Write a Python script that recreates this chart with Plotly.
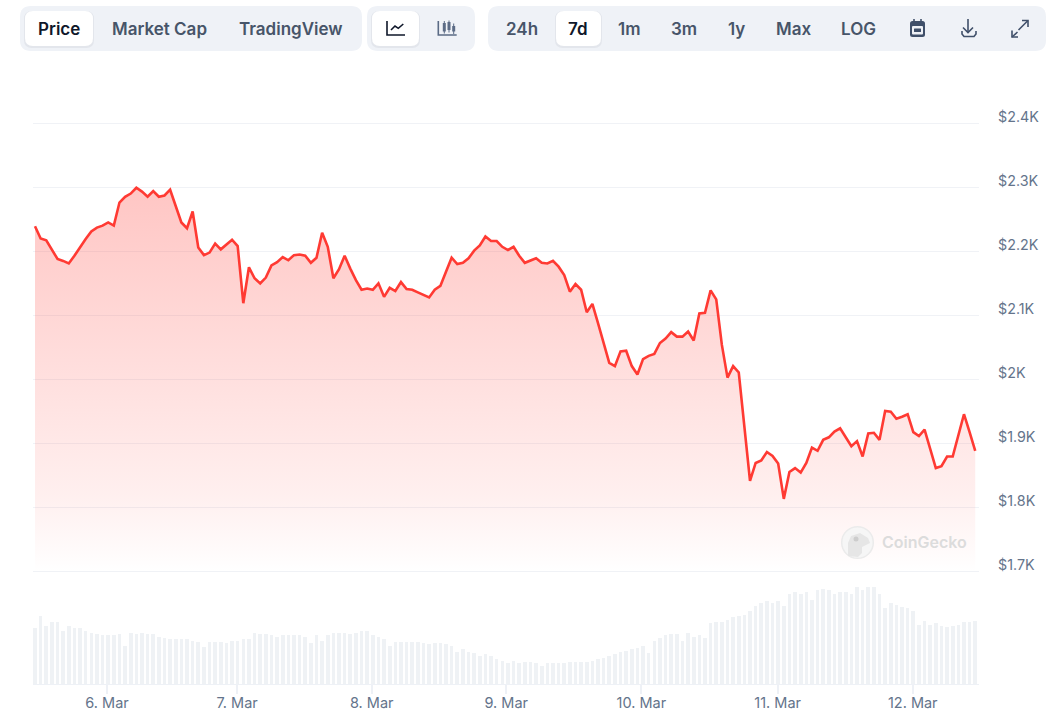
import plotly.graph_objects as go

W, H = 1046, 715

# hourly price
price = [
    2239, 2220, 2217, 2203, 2188, 2185, 2181, 2193, 2207, 2219, 2231, 2237, 2240, 2245, 2240, 2276,
    2285, 2290, 2299, 2293, 2285, 2294, 2285, 2287, 2296, 2270, 2245, 2236, 2262, 2206, 2194, 2198,
    2212, 2203, 2210, 2218, 2208, 2119, 2175, 2158, 2150, 2159, 2178, 2183, 2191, 2186, 2194, 2195,
    2193, 2182, 2190, 2229, 2207, 2158, 2172, 2193, 2173, 2155, 2140, 2142, 2140, 2150, 2129, 2143,
    2138, 2152, 2141, 2140, 2136, 2132, 2128, 2140, 2146, 2168, 2190, 2180, 2182, 2189, 2201, 2209,
    2223, 2216, 2216, 2207, 2202, 2207, 2193, 2182, 2185, 2189, 2182, 2181, 2185, 2176, 2163, 2137,
    2149, 2140, 2105, 2118, 2088, 2057, 2026, 2021, 2044, 2045, 2021, 2008, 2032, 2037, 2040, 2057,
    2064, 2074, 2067, 2067, 2075, 2061, 2103, 2104, 2139, 2125, 2054, 2003, 2021, 2011, 1927, 1842,
    1870, 1874, 1887, 1881, 1869, 1814, 1856, 1862, 1855, 1870, 1894, 1889, 1906, 1910, 1919, 1924,
    1910, 1896, 1904, 1880, 1916, 1917, 1906, 1951, 1950, 1939, 1942, 1946, 1918, 1912, 1922, 1892,
    1862, 1865, 1880, 1880, 1914, 1946, 1918, 1889,
]

# volume bars, relative scale (no axis in the picture)
volume = [
    56, 68, 58, 62, 62, 53, 58, 56, 56, 53, 51, 50, 49, 49, 49, 50, 38, 51, 50, 51, 50, 50, 47, 46,
    45, 45, 45, 45, 43, 42, 37, 42, 42, 42, 41, 43, 43, 45, 45, 51, 50, 50, 49, 47, 49, 49, 49, 49,
    47, 41, 49, 43, 49, 51, 51, 51, 50, 51, 53, 53, 49, 47, 45, 38, 42, 42, 42, 42, 42, 41, 40, 41,
    41, 40, 38, 32, 35, 32, 31, 28, 30, 28, 25, 23, 21, 23, 21, 22, 22, 21, 18, 21, 21, 21, 21, 22,
    22, 22, 22, 23, 25, 26, 28, 30, 32, 33, 35, 36, 38, 31, 43, 46, 49, 50, 50, 43, 51, 47, 49, 46,
    61, 62, 62, 64, 67, 68, 69, 73, 78, 81, 83, 81, 83, 78, 90, 92, 90, 92, 84, 94, 95, 94, 90, 92,
    92, 90, 97, 94, 97, 97, 90, 76, 81, 79, 77, 76, 73, 59, 63, 59, 61, 58, 57, 58, 59, 62, 62, 63,
]

hours = list(range(len(price)))

price_ticks = [1700, 1800, 1900, 2000, 2100, 2200, 2300, 2400]
price_labels = ["$1.7K", "$1.8K", "$1.9K", "$2K", "$2.1K", "$2.2K", "$2.3K", "$2.4K"]

day_ticks = [12.8, 35.9, 59.8, 83.7, 107.7, 131.9, 155.9]
day_labels = ["6. Mar", "7. Mar", "8. Mar", "9. Mar", "10. Mar", "11. Mar", "12. Mar"]

RED = "#ff3a33"
GRID = "#f0f2f6"
BAR = "#eff2f5"
SLATE = "#64748b"
PANEL = "#eff2f7"
DARK = "#0f172a"
BTN_TEXT = "#475569"
ICON = "#40506a"
ICON_SOFT = "#5b6b85"


def px(x):
    return x / W


def py(y):
    return 1 - y / H


def rrect(x0, y0, x1, y1, r):
    return (
        f"M{px(x0 + r)},{py(y0)} L{px(x1 - r)},{py(y0)} Q{px(x1)},{py(y0)} {px(x1)},{py(y0 + r)} "
        f"L{px(x1)},{py(y1 - r)} Q{px(x1)},{py(y1)} {px(x1 - r)},{py(y1)} "
        f"L{px(x0 + r)},{py(y1)} Q{px(x0)},{py(y1)} {px(x0)},{py(y1 - r)} "
        f"L{px(x0)},{py(y0 + r)} Q{px(x0)},{py(y0)} {px(x0 + r)},{py(y0)} Z"
    )


def stroke(points):
    return "M" + " L".join(f"{px(a)},{py(b)}" for a, b in points)


shapes = []


def box(x0, y0, x1, y1, r, fill, layer="below"):
    shapes.append(dict(type="path", xref="paper", yref="paper", path=rrect(x0, y0, x1, y1, r),
                       fillcolor=fill, line=dict(width=0), layer=layer))


def icon(points, color=ICON, width=1.6):
    shapes.append(dict(type="path", xref="paper", yref="paper", path=stroke(points),
                       line=dict(color=color, width=width), layer="above"))


# toolbar panels
box(20, 6, 362, 51, 11, PANEL)
box(367, 6, 475, 51, 11, PANEL)
box(488, 6, 1046, 51, 11, PANEL)
for x0, x1 in [(25, 93), (372, 419), (556, 601)]:
    box(x0 - 1, 11, x1 + 1, 48, 8, "rgba(15,23,42,0.05)")
    box(x0, 11, x1, 46, 8, "#ffffff")

# line chart icon
icon([(387, 21), (387, 35), (405, 35)], DARK)
icon([(391, 30), (395, 26), (398.3, 28.3), (403.3, 24)], DARK)
# candles icon
icon([(438.3, 21), (438.3, 35), (456.7, 35)], ICON_SOFT)
for cx, wick0, wick1, body0, body1 in [(444.3, 21, 33.5, 23, 31.5), (449, 20.5, 32.5, 22, 30),
                                       (453.7, 23.5, 34, 26, 31.5)]:
    icon([(cx, wick0), (cx, wick1)], ICON_SOFT, 1)
    icon([(cx, body0), (cx, body1)], ICON_SOFT, 3)
# calendar icon
box(910, 21, 925, 37, 2.5, ICON, "above")
box(912, 26, 923, 34.5, 1, PANEL, "above")
box(914, 28.5, 921, 32, 0.5, ICON, "above")
icon([(914, 19), (914, 22)])
icon([(921, 19), (921, 22)])
# download icon
icon([(968, 19), (968, 32.5)])
icon([(963, 27.5), (968, 32.5), (973, 27.5)])
icon([(962, 31), (962, 34), (964, 36.5), (974, 36.5), (976, 34), (976, 31)])
# fullscreen icon
icon([(1018.5, 30), (1028, 20.5)])
icon([(1022, 20.5), (1028, 20.5), (1028, 27)])
icon([(1012, 37), (1017.5, 32)])
icon([(1012, 30.5), (1012, 37), (1018, 37)])

# watermark logo
shapes.append(dict(type="circle", xref="paper", yref="paper", x0=px(841.7), x1=px(873.3), y0=py(558.3), y1=py(526.7),
                   fillcolor="#f6f6f6", line=dict(color="#ebebeb", width=1.5), layer="above"))
shapes.append(dict(type="path", xref="paper", yref="paper",
                   path=stroke([(848, 556), (848, 543), (851, 536), (860, 533), (868, 538), (870, 543),
                                (862, 547), (862, 553), (858, 557)]) + " Z",
                   fillcolor="#e6e6e6", line=dict(width=0), layer="above"))
shapes.append(dict(type="circle", xref="paper", yref="paper", x0=px(853.5), x1=px(858.5), y0=py(541.5), y1=py(536.5),
                   fillcolor="#cdcdcd", line=dict(width=0), layer="above"))

annotations = []


def label(text, x, y, color, size=17, weight=600, anchor="center"):
    annotations.append(dict(text=text, xref="paper", yref="paper", x=px(x), y=py(y), xanchor=anchor,
                            yanchor="middle", showarrow=False,
                            font=dict(family="Inter", size=size, color=color, weight=weight)))


label("Price", 59, 29, DARK)
label("Market Cap", 159.5, 29, BTN_TEXT)
label("TradingView", 291, 29, BTN_TEXT)
label("24h", 522, 29, BTN_TEXT)
label("7d", 578, 29, DARK)
label("1m", 629, 29, BTN_TEXT)
label("3m", 684, 29, BTN_TEXT)
label("1y", 736, 29, BTN_TEXT)
label("Max", 793, 29, BTN_TEXT)
label("LOG", 858, 29, BTN_TEXT)
label("CoinGecko", 924, 542, "#dcdcdc", size=16)

# price labels sit a little above their gridlines
for val, txt in zip(price_ticks, price_labels):
    annotations.append(dict(text=txt, xref="paper", yref="y", x=px(996), y=val, yshift=7, xanchor="left",
                            yanchor="middle", showarrow=False,
                            font=dict(family="Inter", size=14.3, color=SLATE)))

fig = go.Figure()
fig.add_trace(go.Bar(x=hours, y=volume, yaxis="y2", width=0.64, marker=dict(color=BAR, line=dict(width=0))))
fig.add_trace(go.Scatter(
    x=hours, y=price, mode="lines", line=dict(color=RED, width=2.6), fill="tozeroy",
    fillgradient=dict(type="vertical", start=1700, stop=2300,
                      colorscale=[[0, "rgba(255,58,51,0)"], [0.2, "rgba(255,58,51,0.08)"], [1, "rgba(255,58,51,0.29)"]]),
))

fig.update_layout(
    width=W, height=H, autosize=False,
    margin=dict(l=0, r=0, t=0, b=0),
    paper_bgcolor="white", plot_bgcolor="white",
    showlegend=False, bargap=0,
    font=dict(family="Inter", size=14, color=SLATE),
    shapes=shapes, annotations=annotations,
    xaxis=dict(domain=[px(33), px(979)], range=[-0.355, 167.67], anchor="y2",
               tickmode="array", tickvals=day_ticks, ticktext=day_labels,
               ticks="outside", ticklen=9, tickcolor="#eef1f6", tickwidth=1.5, ticklabelstandoff=-3,
               showline=True, linecolor="#eef1f6", linewidth=1, showgrid=False, zeroline=False,
               tickfont=dict(family="Inter", size=14.5, color=SLATE)),
    # padded by 5 so the outer gridlines at 1700 and 2400 still get drawn
    yaxis=dict(domain=[py(575.2), py(119.8)], range=[1695, 2405], tickmode="array", tickvals=price_ticks,
               showticklabels=False, ticks="", showgrid=True, gridcolor=GRID, gridwidth=1, zeroline=False,
               showline=False, anchor="x"),
    yaxis2=dict(domain=[py(684), py(584)], range=[0, 100], visible=False, anchor="x"),
)

fig.write_html("out.html", config=dict(displayModeBar=False),
               post_script="document.body.style.margin='0';document.body.style.overflow='hidden';")
